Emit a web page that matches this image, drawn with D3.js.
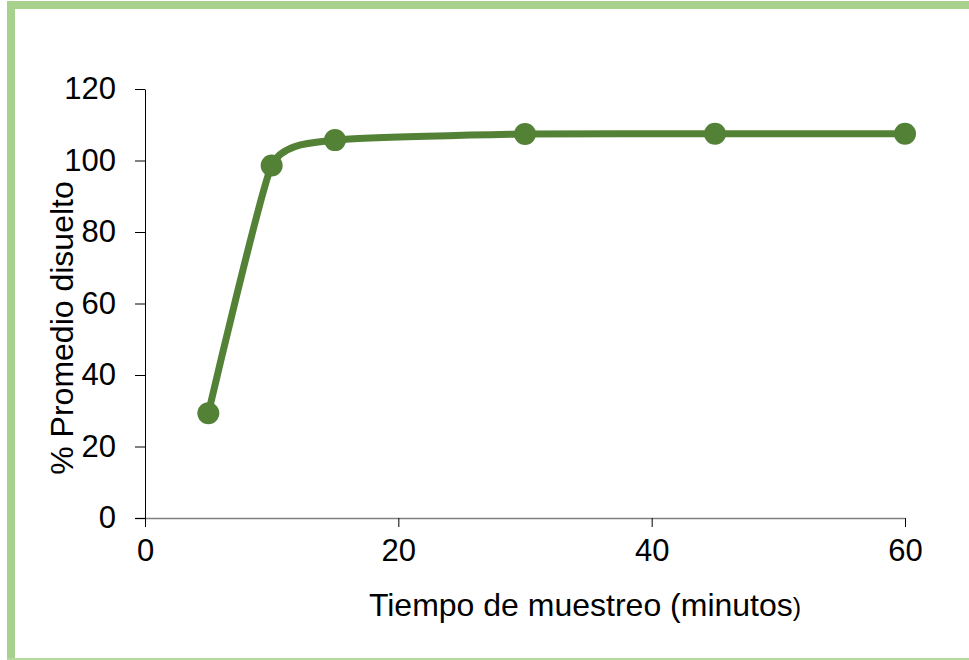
<!DOCTYPE html>
<html>
<head>
<meta charset="utf-8">
<script src="https://cdn.jsdelivr.net/npm/d3@7/dist/d3.min.js"></script>
<style>
  html, body { margin: 0; padding: 0; background: #ffffff; }
  svg { display: block; font-family: "Liberation Sans", Arial, sans-serif; }
</style>
</head>
<body>
<svg id="chart" width="969" height="660"></svg>
<script>
// Sampling times (minutes) and mean dissolved percentage
const tiempos = [5, 10, 15, 30, 45, 60];
const disuelto = [29.3, 98.6, 105.7, 107.4, 107.5, 107.5];
const xTicks = [0, 20, 40, 60];
const yTicks = [0, 20, 40, 60, 80, 100, 120];

const svg = d3.select("#chart");
const green = "#538135";
const fontSize = 31;
const titleSize = 32;

// Frame around the chart area
svg.append("rect").attr("x", 7).attr("y", 1).attr("width", 970).attr("height", 8).attr("fill", "#a9d18e");
svg.append("rect").attr("x", 7).attr("y", 1).attr("width", 8).attr("height", 660).attr("fill", "#a9d18e");
svg.append("rect").attr("x", 7).attr("y", 658).attr("width", 970).attr("height", 2).attr("fill", "#b5d99c");

const x = d3.scaleLinear().domain([0, 60]).range([145, 905]);
const y = d3.scaleLinear().domain([0, 120]).range([518, 89]);

// X axis (grey baseline)
const xAxis = svg.append("g").attr("transform", `translate(0,${y(0)})`)
  .call(d3.axisBottom(x).tickValues(xTicks).tickSize(9).tickPadding(12).tickSizeOuter(0));
xAxis.select(".domain").attr("stroke", "#808080").attr("stroke-width", 1.5)
  .attr("d", `M${x(0) - 10},0.5H${x(60)}`);
xAxis.selectAll(".tick line").attr("stroke", "#000");
xAxis.selectAll(".tick text").attr("font-size", fontSize).attr("fill", "#000")
  .attr("font-family", "Liberation Sans, Arial, sans-serif");

// Y axis
const yAxis = svg.append("g").attr("transform", `translate(${x(0)},0)`)
  .call(d3.axisLeft(y).tickValues(yTicks).tickSize(10).tickPadding(19).tickSizeOuter(0));
yAxis.select(".domain").attr("stroke", "#000").attr("stroke-width", 1);
yAxis.selectAll(".tick line").attr("stroke", "#000");
yAxis.selectAll(".tick text").attr("font-size", fontSize).attr("fill", "#000")
  .attr("font-family", "Liberation Sans, Arial, sans-serif");

// Smoothed series line
const data = tiempos.map((t, i) => ({ t, v: disuelto[i] }));
const line = d3.line().x(d => x(d.t)).y(d => y(d.v)).curve(d3.curveCardinal.tension(0.5));
svg.append("path").datum(data).attr("d", line)
  .attr("fill", "none").attr("stroke", green).attr("stroke-width", 7)
  .attr("stroke-linecap", "round");

svg.selectAll("circle.pt").data(data).enter().append("circle")
  .attr("class", "pt")
  .attr("cx", d => x(d.t)).attr("cy", d => y(d.v)).attr("r", 11)
  .attr("fill", green);

// Axis titles
svg.append("text")
  .attr("transform", `translate(73,328) rotate(-90)`)
  .attr("text-anchor", "middle").attr("font-size", titleSize).attr("fill", "#000")
  .text("% Promedio disuelto");

const xt = svg.append("text")
  .attr("x", 585).attr("y", 616)
  .attr("text-anchor", "middle").attr("font-size", titleSize).attr("fill", "#000");
xt.append("tspan").text("Tiempo de muestreo (minutos");
xt.append("tspan").attr("font-size", 25).text(")");
</script>
</body>
</html>
